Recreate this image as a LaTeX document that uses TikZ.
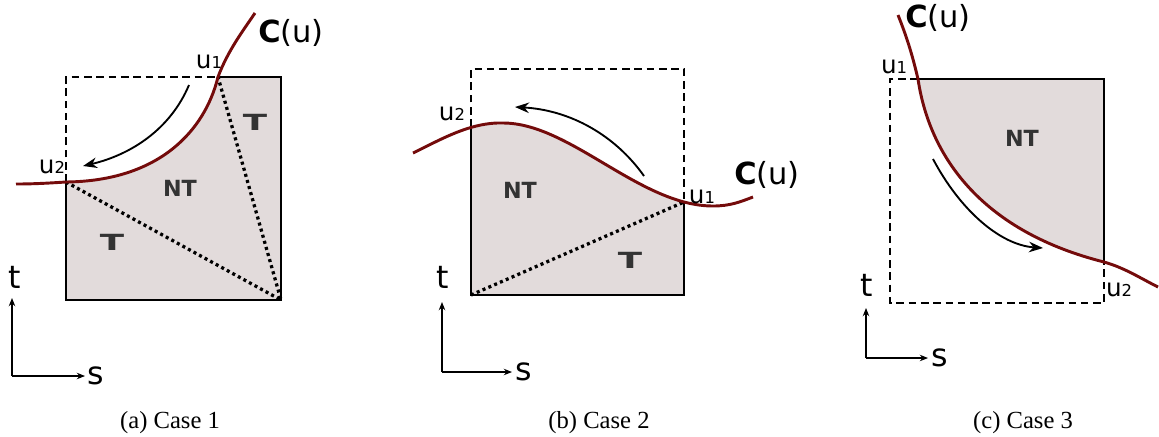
\documentclass[tikz,border=0pt]{standalone}
\usepackage{fontspec}
\usepackage{graphicx}
\newfontfamily\lblfont{DejaVu Sans}
\newfontfamily\capfont{Liberation Serif}
\usetikzlibrary{positioning,arrows.meta}
\definecolor{curvered}{HTML}{740B0B}
\definecolor{ntfill}{HTML}{E2DBDB}
\newcommand{\usub}[1]{u{\fontsize{14}{14}\selectfont #1}}
\newcommand{\bigT}{\scalebox{1.6}[1]{T}}

\begin{document}
\begin{tikzpicture}[x=0.03cm, y=-0.03cm,
  border/.style={line width=2.4pt, line join=miter},
  dashborder/.style={line width=2.1pt, dash pattern=on 6.5pt off 4pt},
  diag/.style={line width=2.8pt, dash pattern=on 2.6pt off 2.8pt},
  curve/.style={curvered, line width=2.5pt},
  flow/.style={line width=1.6pt, -{Stealth[length=12pt,width=9pt]}},
  axis/.style={line width=1pt, -{Stealth[length=7pt,width=5.5pt]}},
  ulbl/.style={font=\lblfont\fontsize{21}{21}\selectfont, inner sep=0pt},
  clbl/.style={font=\lblfont\fontsize{26}{26}\selectfont, inner sep=0pt},
  region/.style={font=\lblfont\bfseries\fontsize{19}{19}\selectfont, text=black!80, inner sep=0pt},
  axlbl/.style={font=\lblfont\fontsize{27}{27}\selectfont, inner sep=0pt},
  caption/.style={font=\capfont\fontsize{21}{23}\selectfont, inner sep=0pt}
]
\useasboundingbox (0,0) rectangle (1159,436);

% (a) case 1
\coordinate (a1) at (218,77);
\coordinate (a2) at (66,182);
\coordinate (aNW) at (66,77);
\coordinate (aNE) at (281,77);
\coordinate (aSE) at (281,300);
\coordinate (aSW) at (66,300);
\fill[ntfill] (a2) .. controls (160,181) and (205,130) .. (a1) -- (aNE) -- (aSE) -- (aSW) -- cycle;
\draw[border] (a1) -- (aNE) -- (aSE) -- (aSW) -- (a2);
\draw[dashborder] (a2) -- (aNW) -- (a1);
\draw[diag] (a2) -- (aSE) -- (a1);
\draw[curve] (16,184) .. controls (35,184) and (50,183) .. (a2)
  .. controls (160,181) and (205,130) .. (a1)
  .. controls (228,50) and (245,28) .. (255,13);
\coordinate (fa0) at (189,85);
\coordinate (fa1) at (83,166);
\draw[flow] (fa0) .. controls (170,130) and (130,155) .. (fa1);
\node[ulbl] (lu1a) at (209,62) {\usub{1}};
\node[ulbl] (lu2a) at (52,167) {\usub{2}};
\node[clbl] (cua) at (291,33) {{\bfseries C}(u)};
\node[region] (nta) at (180,188) {NT};
\node[region] (tra) at (255,122) {\bigT};
\node[region] (tla) at (112,242) {\bigT};

% (b) case 2
\coordinate (b1) at (684,202);
\coordinate (b2) at (471,127);
\coordinate (bNW) at (471,69);
\coordinate (bNE) at (684,69);
\coordinate (bSE) at (684,295);
\coordinate (bSW) at (471,295);
\begin{scope}
  \clip (bSW) rectangle (bNE);
  \fill[ntfill] (413,153) .. controls (440,140) and (470,122) .. (503,123)
    .. controls (570,123) and (640,206) .. (713,206) -- (713,300) -- (413,300) -- cycle;
\end{scope}
\draw[border] (b2) -- (bSW) -- (bSE) -- (b1);
\draw[dashborder] (b2) -- (bNW) -- (bNE) -- (b1);
\draw[diag] (bSW) -- (b1);
\draw[curve] (413,153) .. controls (440,140) and (470,122) .. (503,123)
  .. controls (570,123) and (640,206) .. (713,206)
  .. controls (730,206) and (740,202) .. (753,197);
\coordinate (fb0) at (644,176);
\coordinate (fb1) at (515,107);
\draw[flow] (fb0) .. controls (615,135) and (570,110) .. (fb1);
\node[ulbl] (lu2b) at (452,114) {\usub{2}};
\node[ulbl] (lu1b) at (702,197) {\usub{1}};
\node[clbl] (cub) at (767,175) {{\bfseries C}(u)};
\node[region] (ntb) at (520,190) {NT};
\node[region] (tb) at (630,260) {\bigT};

% (c) case 3
\coordinate (c1) at (918,79);
\coordinate (c2) at (1104,262);
\coordinate (cNW) at (890,79);
\coordinate (cNE) at (1104,79);
\coordinate (cSE) at (1104,303);
\coordinate (cSW) at (890,303);
\fill[ntfill] (c1) -- (cNE) -- (c2) .. controls (985,232) and (930,160) .. (c1) -- cycle;
\draw[border] (c1) -- (cNE) -- (c2);
\draw[dashborder] (c1) -- (cNW) -- (cSW) -- (cSE) -- (c2);
\draw[curve] (898,15) .. controls (908,40) and (913,58) .. (c1)
  .. controls (930,160) and (985,232) .. (c2)
  .. controls (1125,268) and (1140,278) .. (1158,287);
\coordinate (fc0) at (933,159);
\coordinate (fc1) at (1043,248);
\draw[flow] (fc0) .. controls (960,210) and (1000,245) .. (fc1);
\node[ulbl] (lu1c) at (894,67) {\usub{1}};
\node[ulbl] (lu2c) at (1119,290) {\usub{2}};
\node[clbl] (cuc) at (938,18) {{\bfseries C}(u)};
\node[region] (ntc) at (1022,138) {NT};

% axes
\foreach \p/\ox/\oy/\ty/\sx/\tx/\tly/\slx in {a/12/376/298/85/15/277/96, b/442/372/302/512/443/277/524, c/866/358/308/928/867/285/940}{
  \coordinate (o\p) at (\ox,\oy);
  \coordinate (te\p) at (\ox,\ty);
  \coordinate (se\p) at (\sx,\oy);
  \draw[axis] (o\p) -- (te\p);
  \draw[axis] (o\p) -- (se\p);
  \node[axlbl] (t\p) at (\tx,\tly) {t};
  \node[axlbl] (s\p) at (\slx,\oy) {s};
}

\node[caption] (capa) at (170,423) {(a) Case 1};
\node[caption] (capb) at (599,423) {(b) Case 2};
\node[caption] (capc) at (1023,423) {(c) Case 3};
\end{tikzpicture}
\end{document}
